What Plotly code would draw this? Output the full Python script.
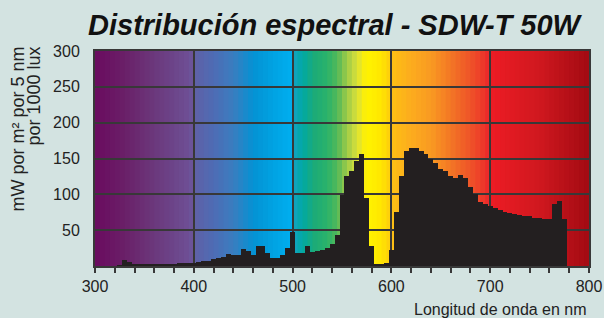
import plotly.graph_objects as go

# ---- data ----
wavelength_nm = list(range(325, 780, 5))
power = [1, 9, 5, 2, 1.5, 1.5, 2, 2, 2.5, 2.5, 2.5, 3, 3.5, 3.5, 4, 4.5,
         5.5, 6.5, 7, 9.5, 11.5, 13, 17, 16, 16, 23.5, 21, 16, 28, 27.5,
         17.5, 11.5, 11.5, 15, 25.5, 47, 18, 18, 28, 20, 21, 23, 25.5, 30.5,
         43, 99, 126, 132, 146, 156, 95, 28, 3, 2.5, 3.5, 23, 75, 126, 161,
         165, 165, 161, 156, 150, 144, 135, 133, 125, 122.5, 126.5, 122.5,
         110, 100, 90, 87, 83.5, 80.5, 78, 75.5, 74.5, 72.5, 71.5, 69.5, 69.5,
         67.5, 67.5, 65, 65, 87, 91, 66]
x_ticks = [300, 400, 500, 600, 700, 800]
y_ticks = [50, 100, 150, 200, 250, 300]

title = "Distribución espectral - SDW-T 50W"
y_title_1 = "mW por m² por 5 nm"
y_title_2 = "por 1000 lux"
x_title = "Longitud de onda en nm"

# ---- styling: spectral background gradient stops ----
spectrum_stops = [
    (300, "#6a0a5f"), (330, "#6a2068"), (360, "#6b387c"), (397, "#6e5096"),
    (400, "#6060a6"), (420, "#4e6cb4"), (440, "#3a7dc0"), (460, "#0592d3"),
    (480, "#00a2e2"), (499, "#00aeef"), (501, "#12a3c0"), (510, "#00a8a4"),
    (522, "#1cab78"), (535, "#2bb36a"), (545, "#50b85a"), (550, "#78c050"),
    (555, "#9ccb48"), (560, "#bcd642"), (566, "#dce238"), (571, "#f8ec10"),
    (576, "#fff200"), (588, "#ffe800"), (597, "#fdd40a"), (601, "#fdbf14"),
    (620, "#fcac1e"), (640, "#f99a22"), (655, "#f57f24"), (670, "#f06527"),
    (685, "#ee4a29"), (697, "#ec2e2b"), (700, "#ed1c24"), (750, "#d0181f"),
    (800, "#a20a12"),
]


def hex_to_rgb(h):
    h = h.lstrip("#")
    return tuple(int(h[i:i + 2], 16) for i in (0, 2, 4))


def color_at(w):
    for (w0, c0), (w1, c1) in zip(spectrum_stops[:-1], spectrum_stops[1:]):
        if w0 <= w <= w1:
            t = (w - w0) / (w1 - w0) if w1 > w0 else 0
            a, b = hex_to_rgb(c0), hex_to_rgb(c1)
            r = [round(a[i] + (b[i] - a[i]) * t) for i in range(3)]
            return "rgb(%d,%d,%d)" % tuple(r)
    return spectrum_stops[-1][1]


shapes = []
band = 5
w = 300
while w < 800:
    shapes.append(dict(type="rect", xref="x", yref="y", x0=w,
                       x1=min(w + band + 1.5, 800),
                       y0=0, y1=300, layer="below", line=dict(width=0),
                       fillcolor=color_at(w + band / 2)))
    w += band

fig = go.Figure()
fig.add_trace(go.Bar(x=wavelength_nm, y=power, width=5,
                     marker=dict(color="#231f20", line=dict(width=0)),
                     hoverinfo="x+y"))

font_family = "Liberation Sans, Arial, sans-serif"
bg = "#d3e3e1"
frame = "#383838"

fig.update_layout(
    width=604, height=318, autosize=False,
    margin=dict(l=95, r=15, t=51, b=52, autoexpand=False),
    paper_bgcolor=bg, plot_bgcolor=bg,
    shapes=shapes,
    bargap=0, showlegend=False,
    font=dict(family=font_family, color="#222222", size=16),
    title=dict(text=title, xref="container", yref="container",
               x=88 / 604, xanchor="left", y=1 - 25 / 318, yanchor="middle",
               font=dict(family=font_family, size=29, color="#111111",
                         weight="bold", style="italic")),
    xaxis=dict(range=[300, 800], tickvals=x_ticks, ticks="outside",
               ticklen=5, tickwidth=1.5, tickcolor=frame,
               minor=dict(dtick=20, tick0=300, ticks="outside", ticklen=5,
                          tickwidth=1.5, tickcolor=frame, showgrid=False),
               showgrid=True, gridcolor=frame, gridwidth=2,
               showline=True, linecolor=frame, linewidth=2, mirror=True,
               zeroline=False, tickfont=dict(size=16), fixedrange=True,
               automargin=False),
    yaxis=dict(range=[0, 300], tickvals=y_ticks, ticks="",
               showgrid=True, gridcolor=frame, gridwidth=2,
               showline=True, linecolor=frame, linewidth=2, mirror=True,
               zeroline=False, tickfont=dict(size=16), ticklabelstandoff=10,
               fixedrange=True, automargin=False),
    annotations=[
        dict(text=y_title_1, textangle=-90, xref="paper", yref="paper",
             x=(17 - 95) / 494, y=(266 - 45) / 215, xanchor="center",
             yanchor="top", showarrow=False, font=dict(size=18)),
        dict(text=y_title_2, textangle=-90, xref="paper", yref="paper",
             x=(33 - 95) / 494, y=(266 - 45) / 215, xanchor="center",
             yanchor="top", showarrow=False, font=dict(size=18)),
        dict(text=x_title, xref="paper", yref="paper",
             x=(589 - 95) / 494, y=(266 - 309) / 215, xanchor="right",
             yanchor="middle", showarrow=False, font=dict(size=16)),
    ],
)

fig.write_html(
    "out.html",
    config={"displayModeBar": False, "responsive": False},
    post_script="document.body.style.margin='0';"
                "document.body.style.background='%s';" % bg,
)
